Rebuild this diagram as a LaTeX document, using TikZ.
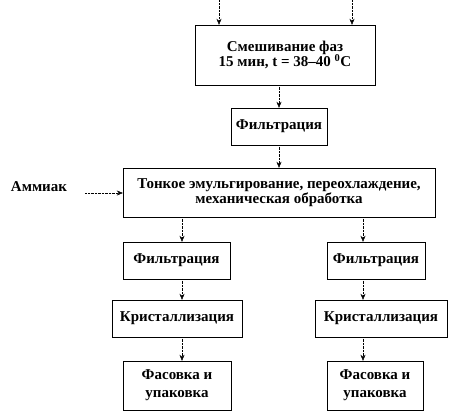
\documentclass[tikz,border=0pt]{standalone}
\usepackage{fontspec}
\setmainfont{Liberation Serif}
\usepackage{tikz}
\usetikzlibrary{arrows.meta,positioning}
\tikzset{
  procblock/.style={
    rectangle, draw=black, thin, fill=white,
    font=\fontsize{15}{15.5}\selectfont\bfseries, align=center, inner sep=2pt
  },
  packblock/.style={
    procblock, font=\fontsize{15}{18}\selectfont\bfseries,
    minimum height=49pt
  },
  flowarrow/.style={
    -{Stealth[length=6pt,width=5pt]}, densely dotted, thin, color=black
  },
  labelnode/.style={
    font=\fontsize{15}{15.5}\selectfont\bfseries
  },
}
\begin{document}
\begin{tikzpicture}[x=1pt,y=-1pt]
  \useasboundingbox (0,0) rectangle (450,412);
  % Mixing and first filtration
  \node[procblock, minimum width=180pt, minimum height=60pt] (mix) at (285,55)
    {Смешивание фаз\\15 мин, t = 38--40 $^{\mathbf{0}}$C};
  \node[procblock, minimum width=96pt, minimum height=37pt] (filt) at (279,126.5) {Фильтрация};

  % Emulsifying
  \node[procblock, minimum width=312pt, minimum height=49pt] (emul) at (279,192.5)
    {Тонкое эмульгирование, переохлаждение,\\механическая обработка};
  \node[labelnode] (amm) at (39,187) {Аммиак};

  % Left branch
  \node[procblock, minimum width=107pt, minimum height=37pt] (filtL) at (176.5,260.5) {Фильтрация};
  \node[procblock, minimum width=130pt, minimum height=37pt] (crystL) at (177,318.5) {Кристаллизация};
  \node[packblock, minimum width=108pt] (packL) at (177,385.5) {Фасовка и\\упаковка};

  % Right branch
  \node[procblock, minimum width=98pt, minimum height=37pt] (filtR) at (376,260.5) {Фильтрация};
  \node[procblock, minimum width=132pt, minimum height=37pt] (crystR) at (381,318.5) {Кристаллизация};
  \node[packblock, minimum width=96pt] (packR) at (375,385.5) {Фасовка и\\упаковка};

  % Columns and free ends
  \coordinate (inA) at (219,0);
  \coordinate (inB) at (352,0);
  \coordinate (colL) at (182,0);
  \coordinate (colR) at (363,0);
  \coordinate (ammout) at (85,193);

  \draw[flowarrow] (inA) -- (mix.north -| inA);
  \draw[flowarrow] (inB) -- (mix.north -| inB);
  \draw[flowarrow] (mix.south -| filt) -- (filt.north);
  \draw[flowarrow] (filt.south) -- (emul.north -| filt);
  \draw[flowarrow] (ammout) -- (emul.west |- ammout);
  \draw[flowarrow] (emul.south -| colL) -- (filtL.north -| colL);
  \draw[flowarrow] (filtL.south -| colL) -- (crystL.north -| colL);
  \draw[flowarrow] (crystL.south -| colL) -- (packL.north -| colL);
  \draw[flowarrow] (emul.south -| colR) -- (filtR.north -| colR);
  \draw[flowarrow] (filtR.south -| colR) -- (crystR.north -| colR);
  \draw[flowarrow] (crystR.south -| colR) -- (packR.north -| colR);
\end{tikzpicture}
\end{document}
